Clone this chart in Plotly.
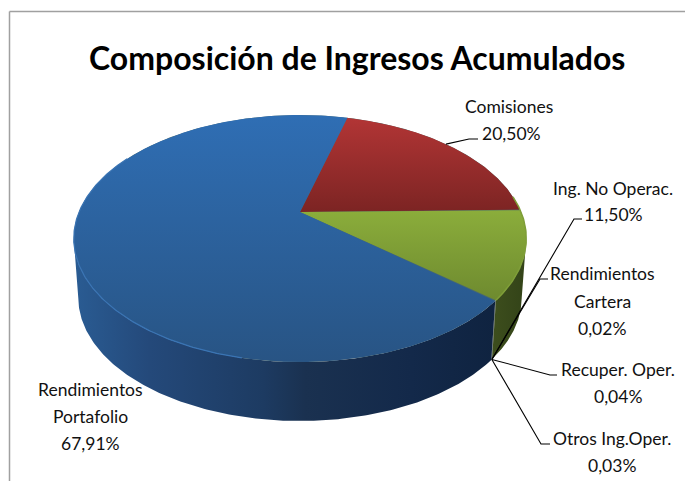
import numpy as np
import plotly.graph_objects as go

# ---------- data ----------
categories = ["Comisiones", "Ing. No Operac.", "Rendimientos Cartera",
              "Recuper. Oper.", "Otros Ing.Oper.", "Rendimientos Portafolio"]
values = [20.50, 11.50, 0.02, 0.04, 0.03, 67.91]
title_text = "Composición de Ingresos Acumulados"

# ---------- layout of the 3D projection (pixels) ----------
W, H = 693, 481
PAGE_MARGIN = 8
CX, CY = 300, 212
RX, RY = 221, 117.8
PERSP = 0.2146
DEPTH = 59
BOTTOM_SCALE = 0.98
FIRST_ANGLE = 15.0
EXTREME = np.degrees(np.arccos(-PERSP))

top_styles = [("#b23535", "#7c2423"), ("#8bad3b", "#6e8a2f"), ("#5b7a5a", "#5b7a5a"),
              ("#5b7a5a", "#5b7a5a"), ("#5b7a5a", "#5b7a5a"), ("#2f6eb4", "#285484")]
wall_styles = [None,
               [[0, "#3d4e1d"], [1, "#334318"]],
               [[0, "#2a3a22"], [1, "#2a3a22"]],
               [[0, "#2a3a22"], [1, "#2a3a22"]],
               [[0, "#2a3a22"], [1, "#2a3a22"]],
               [[0, "#2a5c93"], [0.18, "#24497a"], [0.45, "#1d3b62"], [0.55, "#1a3150"],
                [0.8, "#13294a"], [1, "#0f2340"]]]


def project(theta):
    t = np.radians(theta)
    u, v = np.sin(t), np.cos(t)
    d = 1 + PERSP * v
    return CX + RX * u / d, CY - RY * v / d


def bottom(theta):
    x, y = project(theta)
    return CX + (x - CX) * BOTTOM_SCALE, y + DEPTH


fig = go.Figure()
angles = np.cumsum([0] + [v * 3.6 for v in values]) + FIRST_ANGLE
spans = list(zip(angles[:-1], angles[1:]))

# side wall of every slice that faces the viewer
for i, (a, b) in enumerate(spans):
    lo, hi = max(a, EXTREME), min(b, 360 - EXTREME)
    if wall_styles[i] is None or lo >= hi:
        continue
    th = np.linspace(lo, hi, 200)
    tx, ty = project(th)
    bx, by = bottom(th)
    fig.add_trace(go.Scatter(
        x=np.r_[tx, bx[::-1]], y=np.r_[ty, by[::-1]], mode="lines", line=dict(width=0),
        fill="toself", fillgradient=dict(type="horizontal", colorscale=wall_styles[i]),
        hoverinfo="skip", showlegend=False))

# disc under the top faces, closes the anti-aliasing seams between slices
th = np.linspace(0, 360, 361)
dx, dy = project(th)
fig.add_trace(go.Scatter(x=dx, y=dy, mode="lines", line=dict(width=0), fill="toself",
                         fillcolor="#4a6a6a", hoverinfo="skip", showlegend=False))

# top face of every slice (the y axis is reversed, so the gradient runs bottom to top)
for i, (a, b) in enumerate(spans):
    th = np.linspace(a, b, max(int(b - a) * 3, 4))
    ax, ay = project(th)
    fig.add_trace(go.Scatter(
        x=np.r_[CX, ax, CX], y=np.r_[CY, ay, CY], mode="lines", line=dict(width=0),
        fill="toself", name=categories[i],
        fillgradient=dict(type="vertical",
                          colorscale=[[0, top_styles[i][1]], [1, top_styles[i][0]]]),
        hoverinfo="skip", showlegend=False))

# lit rim along the front of the top face
th = np.linspace(192, 300, 200)
rx, ry = project(th)
fig.add_trace(go.Scatter(x=rx, y=ry, mode="lines", line=dict(color="#3a74b4", width=1.2),
                         hoverinfo="skip", showlegend=False))
th = np.linspace(EXTREME - 20, spans[1][1], 60)
rx, ry = project(th)
fig.add_trace(go.Scatter(x=rx, y=ry, mode="lines", line=dict(color="#7f9e38", width=1.5),
                         hoverinfo="skip", showlegend=False))

# leader lines: anchored on the slice they belong to, elbow near the label
tiny_x, tiny_y = bottom(angles[3])
leaders = [
    (project((spans[0][0] + spans[0][1]) / 2 - 3), (469, 139), (478, 139)),
    ((tiny_x, tiny_y), (574, 219), (582, 219)),
    ((tiny_x, tiny_y), (540, 279), (548, 279)),
    ((tiny_x, tiny_y), (550, 375), (557, 375)),
    ((tiny_x, tiny_y), (541, 444), (550, 444)),
]
for p0, p1, p2 in leaders:
    fig.add_trace(go.Scatter(x=[p0[0], p1[0], p2[0]], y=[p0[1], p1[1], p2[1]], mode="lines",
                             line=dict(color="#000000", width=1.1),
                             hoverinfo="skip", showlegend=False))

# data labels
pct = [f"{v:.2f}".replace(".", ",") + "%" for v in values]
label_lines = [
    (["Comisiones"], [(509, 106)], (511, 133)),
    (["Ing. No Operac."], [(613, 188)], (613, 214)),
    (["Rendimientos", "Cartera"], [(602, 273), (602, 301)], (602, 328)),
    (["Recuper. Oper."], [(618, 369)], (618, 396)),
    (["Otros Ing.Oper."], [(612, 438)], (612, 465)),
    (["Rendimientos", "Portafolio"], [(90, 389), (90, 416)], (90, 443)),
]
font = dict(family="Lato, Carlito, sans-serif", size=17.5, color="#111111")
annotations = []
for i, (lines, pos, pct_pos) in enumerate(label_lines):
    for text, (x, y) in list(zip(lines, pos)) + [(pct[i], pct_pos)]:
        annotations.append(dict(x=x, y=y, xref="x", yref="y", text=text, showarrow=False,
                                xanchor="center", yanchor="middle", font=font))
annotations.append(dict(x=357, y=57, xref="x", yref="y", text=f"<b>{title_text}</b>",
                        showarrow=False, xanchor="center", yanchor="middle",
                        font=dict(family="Lato, Carlito, sans-serif", size=32, color="#000000")))

frame = dict(color="#a0a0a0", width=1.5)
fig.update_layout(
    width=W - PAGE_MARGIN, height=H - PAGE_MARGIN, margin=dict(l=0, r=0, t=0, b=0),
    paper_bgcolor="white", plot_bgcolor="white", showlegend=False,
    xaxis=dict(range=[PAGE_MARGIN, W], visible=False, fixedrange=True),
    yaxis=dict(range=[H, PAGE_MARGIN], visible=False, fixedrange=True),
    annotations=annotations,
    shapes=[dict(type="line", x0=9.5, y0=H, x1=9.5, y1=11.5, line=frame),
            dict(type="line", x0=9.5, y0=11.5, x1=W, y1=11.5, line=frame)],
)
fig.write_html("out.html", config=dict(displayModeBar=False))
